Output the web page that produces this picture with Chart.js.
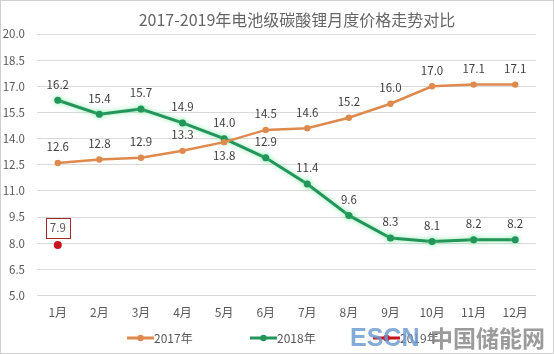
<!DOCTYPE html>
<html><head><meta charset="utf-8">
<script src="https://cdn.jsdelivr.net/npm/chart.js@4/dist/chart.umd.min.js"></script>
<style>html,body{margin:0;padding:0;background:#fff}#wrap{width:554px;height:354px}</style>
</head><body><div id="wrap"><canvas id="c" width="554" height="354"></canvas></div>
<script>
const chartTitle = '2017-2019年电池级碳酸锂月度价格走势对比';
const months = ['1月','2月','3月','4月','5月','6月','7月','8月','9月','10月','11月','12月'];
const seriesNames = ['2017年','2018年','2019年'];
const price2017 = [12.6,12.8,12.9,13.3,13.8,14.5,14.6,15.2,16.0,17.0,17.1,17.1];
const price2018 = [16.2,15.4,15.7,14.9,14.0,12.9,11.4,9.6,8.3,8.1,8.2,8.2];
const price2019 = [7.9,null,null,null,null,null,null,null,null,null,null,null];
const yMin = 5.0, yMax = 20.0, yStep = 1.5;

const FONT = '"Noto Sans CJK SC","Noto Sans",sans-serif';
const colors = ['#DE8A4F','#23945A','#C8141E'];

const extras = {
  id:'extras',
  beforeDatasetDraw(chart, args){
    const ctx = chart.ctx;
    ctx.save();
    if (args.index === 1){ ctx.shadowColor='rgba(90,230,140,0.7)'; ctx.shadowBlur=5; }
  },
  afterDatasetDraw(chart){ chart.ctx.restore(); },
  afterDatasetsDraw(chart){
    const ctx = chart.ctx;
    ctx.save();
    ctx.font = '11.5px '+FONT;
    ctx.fillStyle = '#404040';
    ctx.textAlign = 'center';
    ctx.textBaseline = 'middle';
    chart.data.datasets.forEach((ds, di) => {
      const meta = chart.getDatasetMeta(di);
      meta.data.forEach((pt, i) => {
        const v = ds.data[i];
        if (v === null || v === undefined) return;
        const txt = v.toFixed(1);
        if (di === 2){
          const bx = pt.x, by = pt.y - 17;
          ctx.strokeStyle = '#A0282D'; ctx.lineWidth = 1;
          ctx.strokeRect(Math.round(bx-12)+0.5, Math.round(by-10)+0.5, 24, 20);
          ctx.fillStyle = '#595959';
          ctx.fillText(txt, bx, by);
          ctx.fillStyle = '#404040';
          return;
        }
        let dy = -16;
        if (di === 0 && i === 4) dy = 13;
        ctx.fillText(txt, pt.x, pt.y + dy);
      });
    });
    ctx.restore();
  },
  afterDraw(chart){
    const ctx = chart.ctx;
    ctx.save();
    // title
    ctx.font = '16px '+FONT;
    ctx.fillStyle = '#666666';
    ctx.textAlign = 'center'; ctx.textBaseline = 'middle';
    ctx.fillText(chartTitle, 297, 20);
    // legend
    ctx.font = '12px '+FONT;
    ctx.textAlign = 'left';
    const starts = [127, 250, 373];
    const ly = 338;
    chart.data.datasets.forEach((ds, di) => {
      const x0 = starts[di];
      ctx.strokeStyle = ds.borderColor; ctx.lineWidth = 3;
      ctx.beginPath(); ctx.moveTo(x0, ly); ctx.lineTo(x0+27, ly); ctx.stroke();
      ctx.fillStyle = ds.borderColor;
      ctx.beginPath(); ctx.arc(x0+13.5, ly, 3.2, 0, Math.PI*2); ctx.fill();
      ctx.fillStyle = '#595959';
      ctx.fillText(ds.label, x0+27, ly);
    });
    // watermark
    ctx.globalAlpha = 0.85;
    ctx.font = 'bold 25px "Liberation Sans",sans-serif';
    ctx.fillStyle = '#6E9BD0';
    ctx.fillText('ESCN', 350, 339);
    ctx.font = 'bold 23px '+FONT;
    ctx.fillStyle = '#8A8A8A';
    ctx.fillText('中国储能网', 430, 338);
    ctx.globalAlpha = 1;
    // frame
    ctx.strokeStyle = '#D0D0D0'; ctx.lineWidth = 1;
    ctx.strokeRect(0.5, 0.5, 553, 353);
    ctx.restore();
  }
};

new Chart(document.getElementById('c'), {
  type: 'line',
  data: {
    labels: months,
    datasets: [
      { label: seriesNames[0], data: price2017, borderColor: colors[0], backgroundColor: colors[0], borderWidth: 2.5, pointRadius: 3.2, pointHoverRadius: 3.2, pointBackgroundColor: colors[0], pointBorderWidth: 0, tension: 0 },
      { label: seriesNames[1], data: price2018, borderColor: colors[1], backgroundColor: colors[1], borderWidth: 3, pointRadius: 3.5, pointHoverRadius: 3.5, pointBackgroundColor: colors[1], pointBorderWidth: 0, tension: 0 },
      { label: seriesNames[2], data: price2019, borderColor: colors[2], backgroundColor: colors[2], borderWidth: 3, pointRadius: 4, pointHoverRadius: 4, pointBackgroundColor: colors[2], pointBorderWidth: 0, tension: 0 }
    ]
  },
  options: {
    responsive: false,
    animation: false,
    events: [],
    layout: { padding: { top: 34, right: 18, bottom: 32, left: 0 } },
    plugins: { legend: { display: false }, title: { display: false }, tooltip: { enabled: false } },
    scales: {
      x: {
        offset: true,
        grid: { display: false },
        border: { display: false },
        ticks: { color: '#595959', font: { size: 12, family: FONT }, padding: 2, maxRotation: 0, autoSkip: false }
      },
      y: {
        min: yMin, max: yMax,
        afterFit(scale){ scale.width = 37; },
        afterBuildTicks(scale){
          const t = [];
          for (let k = 0; k <= Math.round((yMax-yMin)/yStep); k++) t.push({ value: +(yMin + k*yStep).toFixed(1) });
          scale.ticks = t;
        },
        grid: { color: '#D9D9D9', drawTicks: false, lineWidth: 1 },
        border: { display: false },
        ticks: { color: '#595959', font: { size: 11.5, family: FONT }, padding: 12, callback: v => Number(v).toFixed(1) }
      }
    }
  },
  plugins: [extras]
});
</script></body></html>
